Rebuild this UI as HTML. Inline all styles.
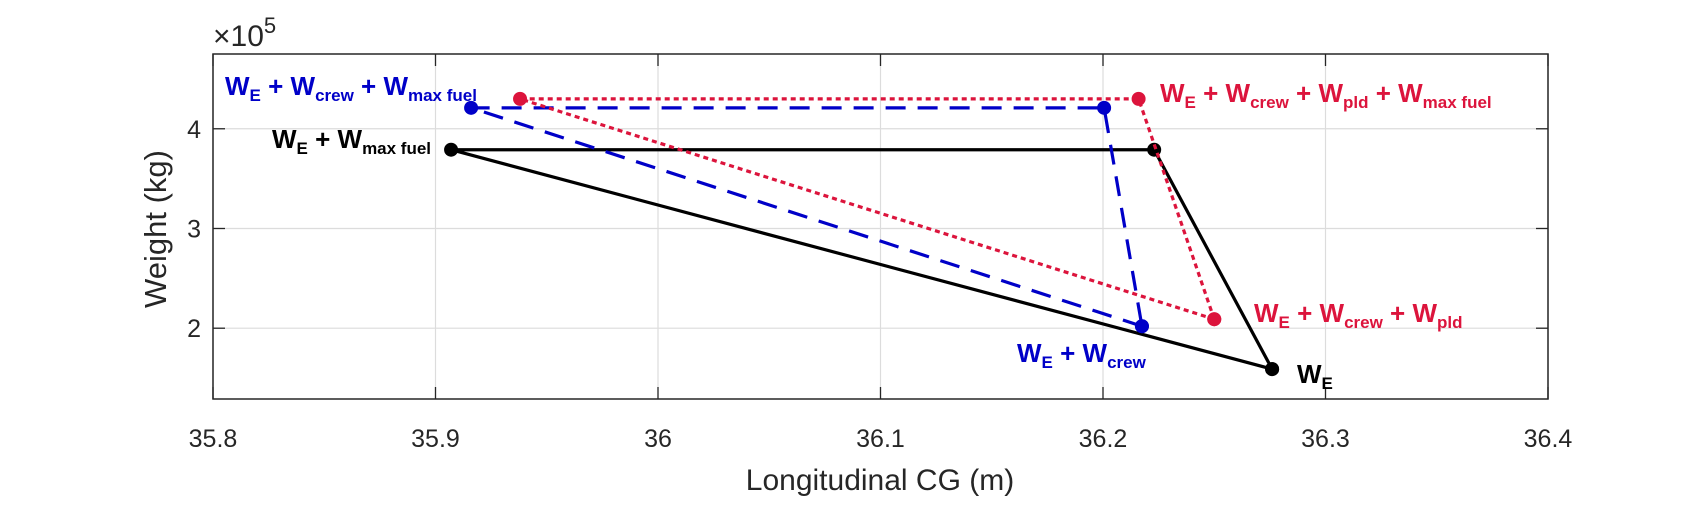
<!DOCTYPE html>
<html><head><meta charset="utf-8"><style>
body{margin:0;background:#fff}
svg{display:block;font-family:"Liberation Sans",Arial,sans-serif}
</style></head><body>
<svg id="c" width="1702" height="507">
<g id="grid"></g>
<g id="series"></g>
<rect x="213" y="54" width="1335" height="345" fill="none" stroke="#262626" stroke-width="1.5"/>
<g id="ticks"></g>
<text x="213" y="46" font-size="30" fill="#262626">×10<tspan font-size="22" dy="-13">5</tspan></text>
<text x="880" y="490" font-size="30" fill="#262626" text-anchor="middle">Longitudinal CG (m)</text>
<text x="0" y="0" font-size="31" fill="#262626" text-anchor="middle" transform="translate(166,229) rotate(-90)">Weight (kg)</text>
<g font-weight="bold" font-size="26">
<text x="225" y="95" fill="#0000c8">W<tspan font-size="17" dy="6">E</tspan><tspan dy="-6"> + W</tspan><tspan font-size="17" dy="6">crew</tspan><tspan dy="-6"> + W</tspan><tspan font-size="17" dy="6">max fuel</tspan></text>
<text x="272" y="148" fill="#000">W<tspan font-size="17" dy="6">E</tspan><tspan dy="-6"> + W</tspan><tspan font-size="17" dy="6">max fuel</tspan></text>
<text x="1160" y="102" fill="#dc143c">W<tspan font-size="17" dy="6">E</tspan><tspan dy="-6"> + W</tspan><tspan font-size="17" dy="6">crew</tspan><tspan dy="-6"> + W</tspan><tspan font-size="17" dy="6">pld</tspan><tspan dy="-6"> + W</tspan><tspan font-size="17" dy="6">max fuel</tspan></text>
<text x="1254" y="322" fill="#dc143c">W<tspan font-size="17" dy="6">E</tspan><tspan dy="-6"> + W</tspan><tspan font-size="17" dy="6">crew</tspan><tspan dy="-6"> + W</tspan><tspan font-size="17" dy="6">pld</tspan></text>
<text x="1017" y="362" fill="#0000c8">W<tspan font-size="17" dy="6">E</tspan><tspan dy="-6"> + W</tspan><tspan font-size="17" dy="6">crew</tspan></text>
<text x="1297" y="383" fill="#000">W<tspan font-size="17" dy="6">E</tspan></text>
</g>
</svg>
<script>
const xTicks=[35.8,35.9,36,36.1,36.2,36.3,36.4];
const xTickLabels=["35.8","35.9","36","36.1","36.2","36.3","36.4"];
const yTicks=[2,3,4];
const yTickLabels=["2","3","4"];
const blackX=[36.276,35.907,36.223,36.276];
const blackY=[1.59,3.79,3.79,1.59];
const blueX=[36.2175,35.916,36.2005,36.2175];
const blueY=[2.02,4.21,4.21,2.02];
const redX=[36.25,35.938,36.216,36.25];
const redY=[2.09,4.30,4.30,2.09];
const L=213,R=1548,T=54,B=399,X0=35.8,X1=36.4,Y0=1.29,Y1=4.75;
const sx=v=>L+(v-X0)/(X1-X0)*(R-L);
const sy=v=>B-(v-Y0)/(Y1-Y0)*(B-T);
const NS="http://www.w3.org/2000/svg";
function mk(p,t,a){const e=document.createElementNS(NS,t);for(const k in a)e.setAttribute(k,a[k]);p.appendChild(e);return e;}
const grid=document.getElementById('grid'),ticks=document.getElementById('ticks'),ser=document.getElementById('series');
xTicks.forEach((v,i)=>{
 const g=mk(grid,'line',{x1:sx(v),x2:sx(v),y1:T,y2:B,stroke:'#dcdcdc','stroke-width':1.2});
 
 
 const t1=mk(ticks,'line',{x1:sx(v),x2:sx(v),y1:T,y2:T+12,stroke:'#262626','stroke-width':1.3});
 
 
 const t2=mk(ticks,'line',{x1:sx(v),x2:sx(v),y1:B,y2:B-12,stroke:'#262626','stroke-width':1.3});
 
 
 const tl=mk(ticks,'text',{x:sx(v),y:B+48,'font-size':25,fill:'#262626','text-anchor':'middle'});
 tl.textContent=xTickLabels[i];
 
 
});
yTicks.forEach((v,i)=>{
 const g=mk(grid,'line',{x1:L,x2:R,y1:sy(v),y2:sy(v),stroke:'#dcdcdc','stroke-width':1.2});
 
 
 const t1=mk(ticks,'line',{x1:L,x2:L+12,y1:sy(v),y2:sy(v),stroke:'#262626','stroke-width':1.3});
 
 
 const t2=mk(ticks,'line',{x1:R,x2:R-12,y1:sy(v),y2:sy(v),stroke:'#262626','stroke-width':1.3});
 
 
 const tl=mk(ticks,'text',{x:L-12,y:sy(v)+9,'font-size':25,fill:'#262626','text-anchor':'end'});
 tl.textContent=yTickLabels[i];
 
 
});
function series(xs,ys,col,dash,name){
 const pts=xs.map((x,i)=>sx(x)+','+sy(ys[i])).join(' ');
 const pl=mk(ser,'polyline',{points:pts,fill:'none',stroke:col,'stroke-width':3.2,'stroke-dasharray':dash});
 
 
 xs.forEach((x,i)=>{
  const c=mk(ser,'circle',{cx:sx(x),cy:sy(ys[i]),r:7,fill:col});
  
  
 });
}
series(blackX,blackY,'#000','none','black-envelope');
series(blueX,blueY,'#0000c8','20 12','blue-envelope');
series(redX,redY,'#dc143c','5 4','red-envelope');
</script>
</body></html>
